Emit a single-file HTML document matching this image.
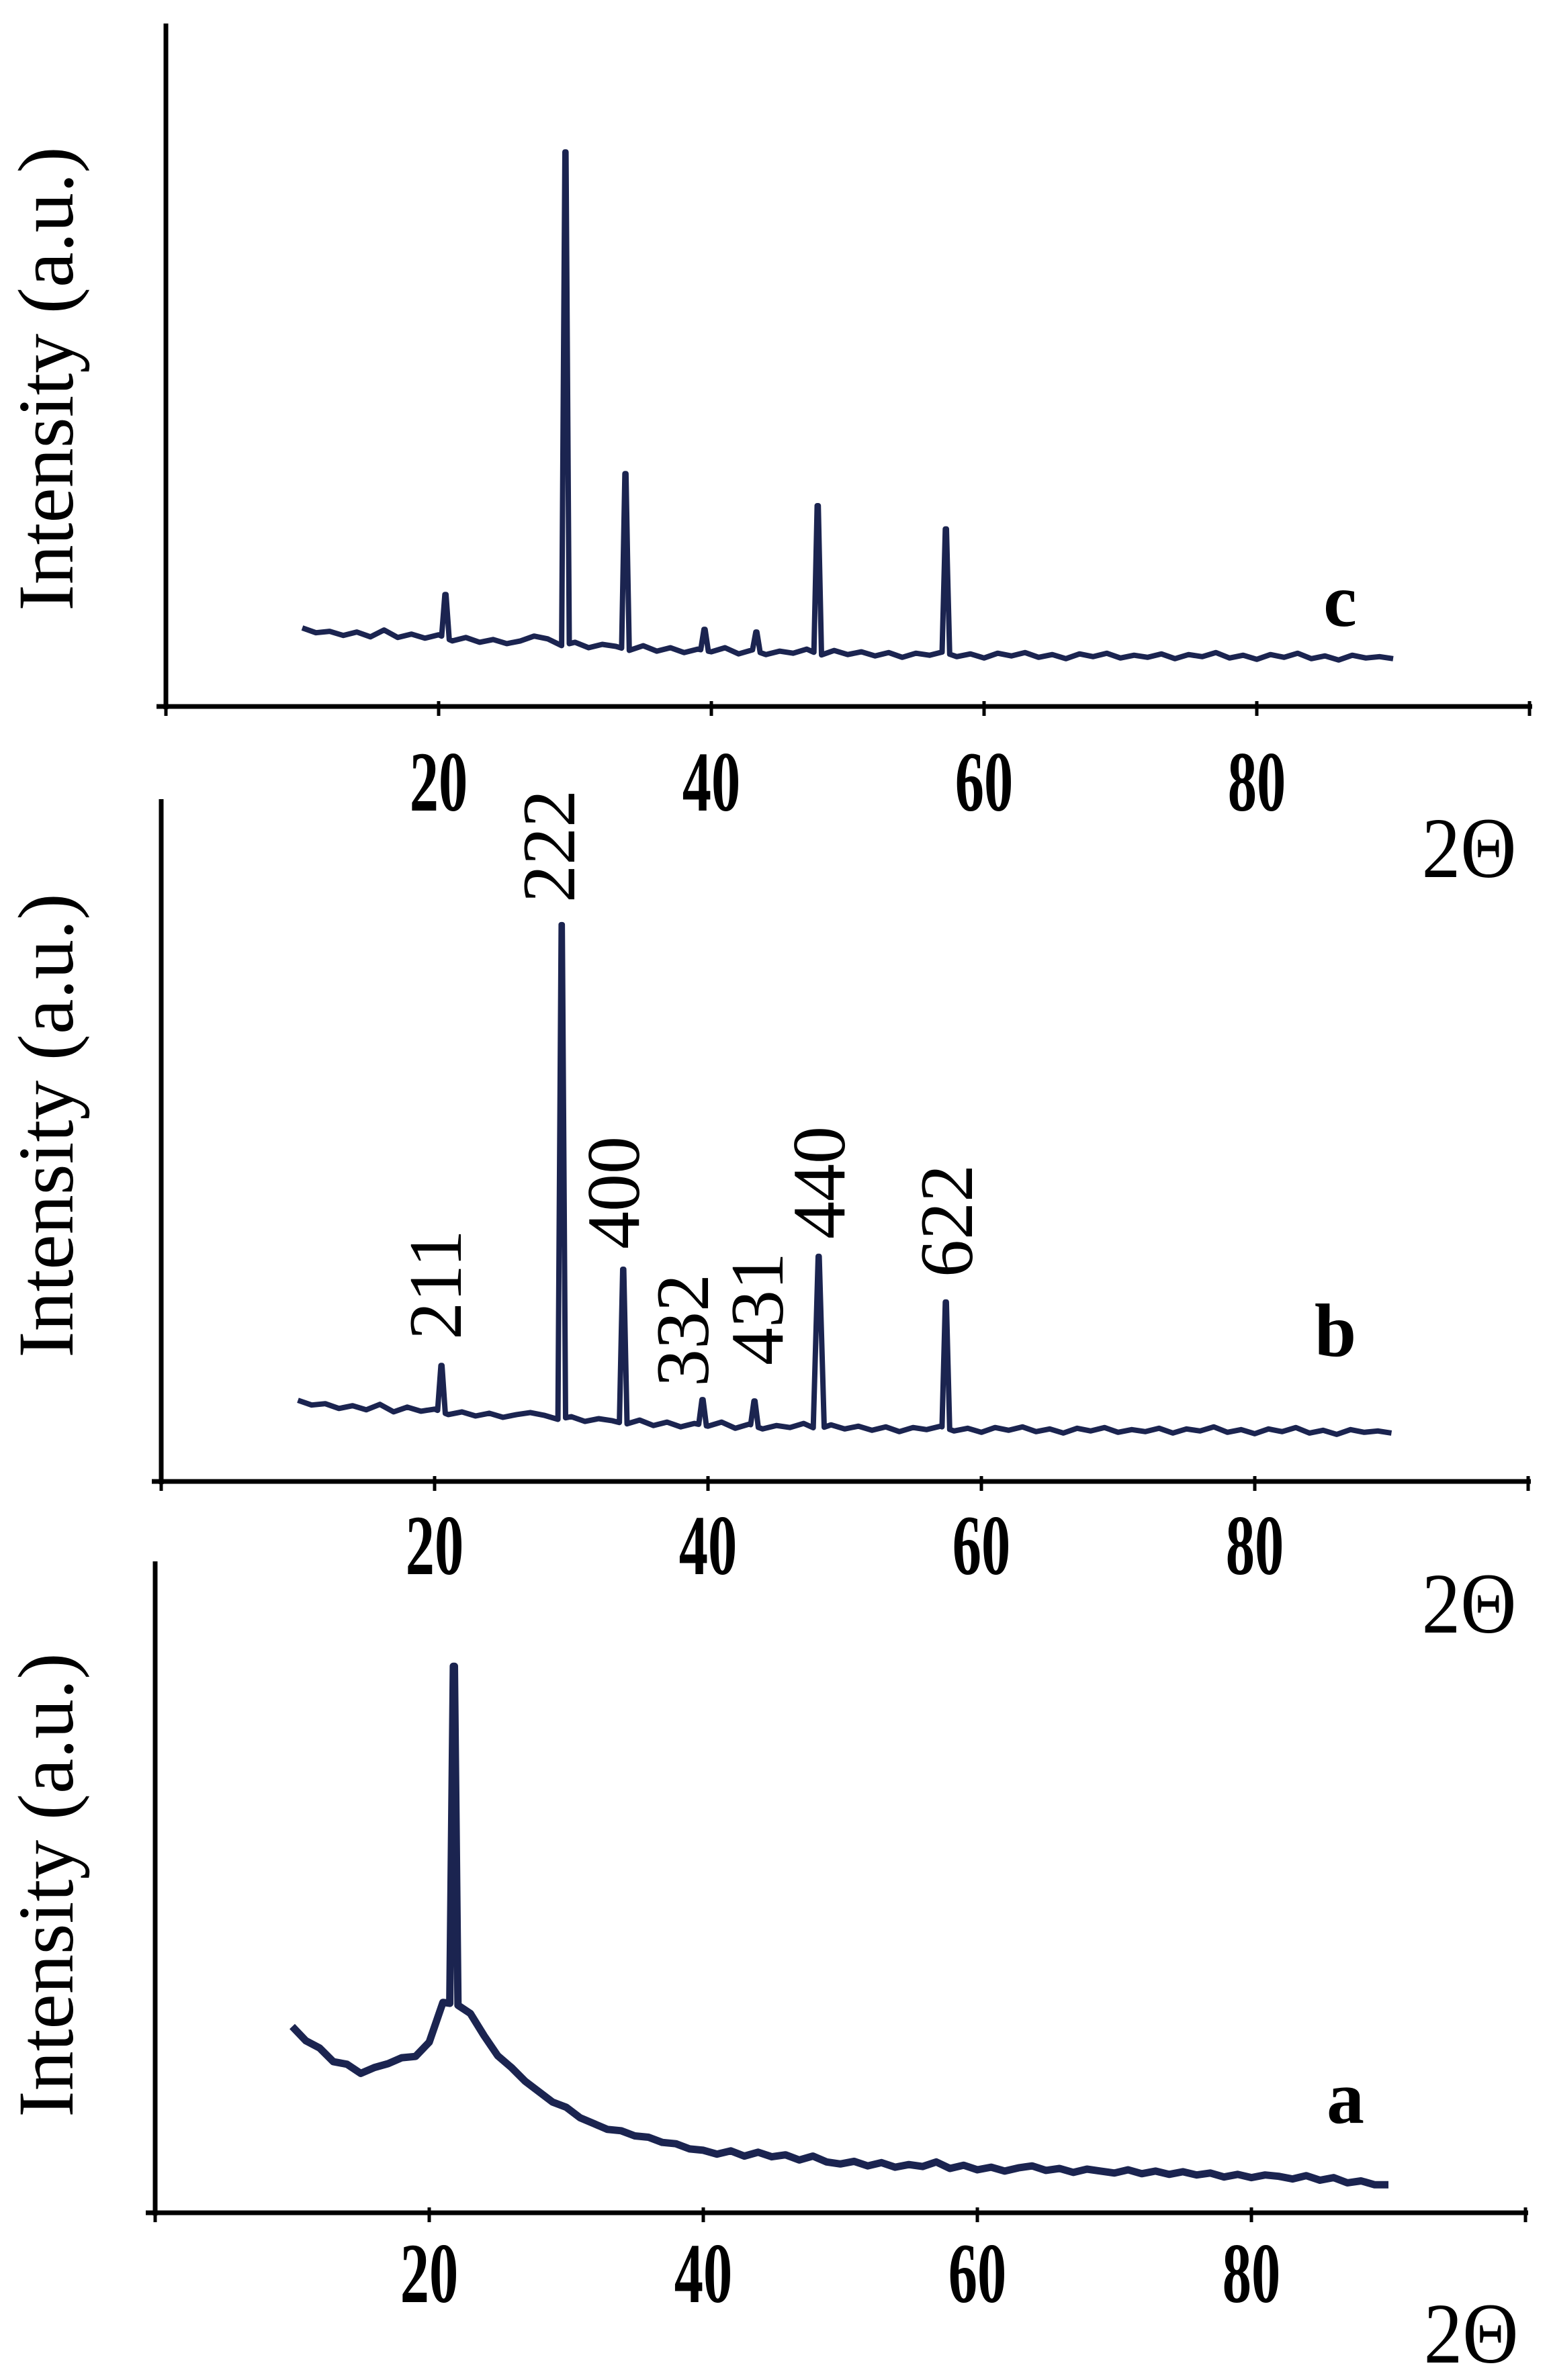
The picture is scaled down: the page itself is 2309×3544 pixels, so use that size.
<!DOCTYPE html>
<html><head><meta charset="utf-8"><style>
html,body{margin:0;padding:0;background:#fff}
svg{display:block}
.tick{font-family:"Liberation Serif",serif;font-weight:bold;font-size:94px}
.ytitle{font-family:"Liberation Serif",serif;font-size:118px}
.theta{font-family:"Liberation Serif",serif;font-size:128px}
.plab{font-family:"Liberation Serif",serif;font-weight:bold;font-size:112px}
.hkl{font-family:"Liberation Serif",serif;font-size:112px}
</style></head><body>
<svg id="chart" xmlns="http://www.w3.org/2000/svg" width="2309" height="3544" viewBox="0 0 2309 3544">
<rect width="2309" height="3544" fill="#fff"/>
</svg>
<script>
// shared baseline x positions (2θ, degrees)
const baseX = [10,11,12,13,14,15,16,17,18,19,20,21,22,23,24,25,26,27,28,29,30,31,32,33,34,35,36,37,38,39,40,41,42,43,44,45,46,47,48,49,50,51,52,53,54,55,56,57,58,59,60,61,62,63,64,65,66,67,68,69,70,71,72,73,74,75,76,77,78,79,80,81,82,83,84,85,86,87,88,89,90];
const tickVals = [20,40,60,80];
// panel c
const baseC = [11.5,10.8,11.0,10.4,10.9,10.2,11.2,10.1,10.6,10.0,10.5,9.6,10.1,9.4,9.8,9.2,9.6,10.3,9.9,8.9,9.4,8.6,9.1,8.8,8.2,8.9,8.1,8.6,7.9,8.4,8.0,8.6,7.7,8.3,7.6,8.1,7.8,8.4,7.5,8.2,7.6,8.0,7.4,7.9,7.2,7.8,7.5,8.0,7.3,7.7,7.1,7.8,7.4,7.9,7.2,7.6,7.0,7.7,7.3,7.8,7.1,7.5,7.2,7.7,7.0,7.6,7.3,7.9,7.1,7.5,6.9,7.6,7.2,7.8,7.0,7.4,6.8,7.5,7.1,7.3,7.0];
const peakXC = [20.5,29.3,33.7,39.5,43.3,47.8,57.2];
const peakHC = [16.4,81.2,34.1,11.3,10.9,29.4,26.0];
// panel b
const baseB = [11.9,11.2,11.4,10.7,11.1,10.5,11.3,10.2,10.9,10.3,10.6,9.8,10.2,9.6,10.0,9.4,9.8,10.1,9.7,9.1,9.5,8.8,9.2,8.9,8.4,9.0,8.2,8.7,8.0,8.5,8.1,8.7,7.8,8.4,7.7,8.2,7.9,8.5,7.6,8.3,7.7,8.1,7.5,8.0,7.3,7.9,7.6,8.1,7.4,7.8,7.2,7.9,7.5,8.0,7.3,7.7,7.1,7.8,7.4,7.9,7.2,7.6,7.3,7.8,7.1,7.7,7.4,8.0,7.2,7.6,7.0,7.7,7.3,7.9,7.1,7.5,6.9,7.6,7.2,7.4,7.1];
const peakXB = [20.5,29.3,33.8,39.6,43.4,48.1,57.4];
const peakHB = [17.0,81.6,31.1,12.0,11.8,33.0,26.3];
const hklLabels = ["211","222","400","332","431","440","622"];
// panel a
const baseA = [28.6,26.4,25.3,23.2,22.8,21.4,22.3,22.9,23.8,24.0,26.2,32.3,32.0,30.6,27.2,24.1,22.3,20.2,18.6,17.0,16.2,14.6,13.7,12.8,12.6,11.8,11.6,10.8,10.6,9.8,9.6,9.0,9.5,8.7,9.3,8.6,8.9,8.1,8.7,7.8,7.5,7.9,7.2,7.7,7.0,7.4,7.1,7.8,6.8,7.3,6.6,7.0,6.4,6.9,7.2,6.5,6.8,6.2,6.7,6.4,6.1,6.6,6.0,6.4,5.9,6.3,5.8,6.1,5.5,5.9,5.4,5.8,5.6,5.2,5.7,5.0,5.4,4.6,4.9,4.3,4.3];
const peakXA = [21.8];
const peakHA = [83.9];

const svg = document.getElementById('chart');
const NS = 'http://www.w3.org/2000/svg';
function mk(tag, attrs, parent){const e=document.createElementNS(NS,tag);for(const k in attrs)e.setAttribute(k,attrs[k]);(parent||svg).appendChild(e);return e;}

const panels = [
 {id:'c', x0:247, xs:20.3, yAx:1052, yTop:35, base:baseC, px:peakXC, ph:peakHC, w:0.28, sw:8, tickY:1165, theta:[2187,1262], lab:[1995,904], title:564},
 {id:'b', x0:240, xs:20.35, yAx:2206, yTop:1190, base:baseB, px:peakXB, ph:peakHB, w:0.28, sw:8, tickY:2302, theta:[2187,2387], lab:[1988,1991], title:1676},
 {id:'a', x0:231, xs:20.4, yAx:3295, yTop:2325, base:baseA, px:peakXA, ph:peakHA, w:0.3, sw:11, tickY:3386, theta:[2190,3474], lab:[2003,3133], title:2807}
];
const hklPos = [[648,1913],[817,1260],[913,1776],[1016,1981],[1127,1949],[1219,1761],[1409,1818]];

panels.forEach(p=>{
  const g = mk('g',{});
  
  
  const X = v=>p.x0+v*p.xs;
  const Y = v=>p.yAx-v*(p.yAx-p.yTop)/100;
  const n = Math.min(baseX.length,p.base.length);
  const baseAt = x=>{for(let i=0;i<n-1;i++){if(x>=baseX[i]&&x<=baseX[i+1]){const t=(x-baseX[i])/(baseX[i+1]-baseX[i]);return p.base[i]+t*(p.base[i+1]-p.base[i]);}}return p.base[n-1];};
  let pts=[];
  for(let i=0;i<n;i++){const x=baseX[i];if(p.px.some(q=>Math.abs(q-x)<p.w+0.05))continue;pts.push([x,p.base[i]]);}
  p.px.forEach((q,i)=>{const w=(p.id==='b'&&i===5)?0.4:p.w;pts.push([q-w,baseAt(q-w)]);pts.push([q-0.04,p.ph[i]]);pts.push([q+0.04,p.ph[i]]);pts.push([q+w,baseAt(q+w)]);});
  pts.sort((a,b)=>a[0]-b[0]);
  const d = pts.map((pt,i)=>(i?'L':'M')+X(pt[0]).toFixed(1)+' '+Y(pt[1]).toFixed(1)).join(' ');
  const path = mk('path',{d:d,fill:'none',stroke:'#1b2450','stroke-width':p.sw,'stroke-linejoin':'round'},g);
  
  
  const ya = mk('line',{x1:X(0),y1:p.yTop,x2:X(0),y2:p.yAx+4,stroke:'#000','stroke-width':'7'},g);
  
  
  const xa = mk('line',{x1:X(0)-14,y1:p.yAx,x2:X(100)+4,y2:p.yAx,stroke:'#000','stroke-width':'7'},g);
  
  
  [0,20,40,60,80,100].forEach(v=>{
    const t = mk('line',{x1:X(v),y1:p.yAx-8,x2:X(v),y2:p.yAx+14,stroke:'#000','stroke-width':'5'},g);
    
    
  });
  tickVals.forEach(v=>{
    const t = mk('text',{x:0,y:0,'text-anchor':'middle',class:'tick',transform:'translate('+X(v)+','+(p.tickY+42)+') scale(0.92,1.35)'},g);
    t.textContent=v;
    
    
  });
  const th = mk('text',{x:0,y:0,'text-anchor':'middle',class:'theta',transform:'translate('+p.theta[0]+','+(p.theta[1]+44)+') scale(0.9,1)'},g);
  th.textContent='2Θ';
  
  
  const lb = mk('text',{x:p.lab[0],y:p.lab[1]+28,'text-anchor':'middle',class:'plab'},g);
  lb.textContent=p.id;
  
  
  const yt = mk('text',{x:0,y:0,'text-anchor':'middle',class:'ytitle',transform:'translate(108,'+p.title+') rotate(-90)'},g);
  yt.textContent='Intensity (a.u.)';
  
  
});
hklLabels.forEach((s,i)=>{
  const [x,y]=hklPos[i];
  const t = mk('text',{x:0,y:0,'text-anchor':'middle',class:'hkl',transform:'translate('+(x+38)+','+y+') rotate(-90)'});
  t.textContent=s;
  
  
});
</script>
</body></html>
